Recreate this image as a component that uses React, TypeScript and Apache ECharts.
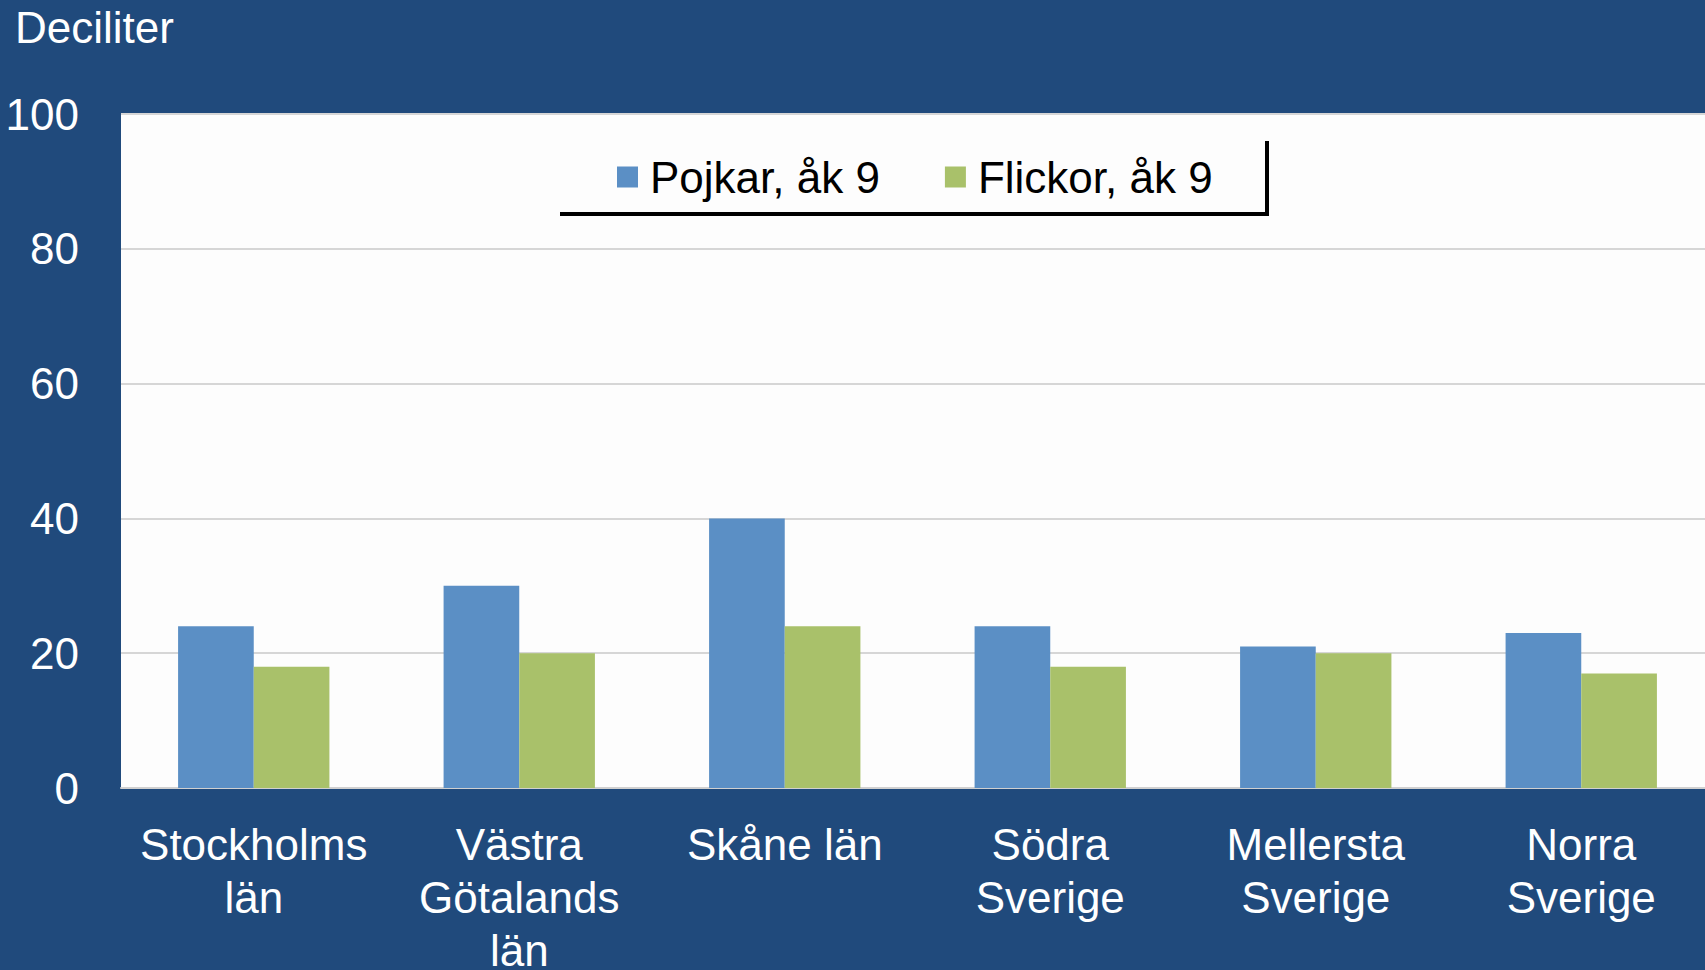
import React, { useEffect, useRef } from "react";
import * as echarts from "echarts";

const categories = ["Stockholms\nlän", "Västra\nGötalands\nlän", "Skåne län", "Södra\nSverige", "Mellersta\nSverige", "Norra\nSverige"];
const pojkar = [24, 30, 40, 24, 21, 23];
const flickor = [18, 20, 24, 18, 20, 17];
const seriesNames = ["Pojkar, åk 9", "Flickor, åk 9"];
const yTitle = "Deciliter";

const FONT = "'Liberation Sans', Arial, sans-serif";

export default function App() {
  const ref = useRef<HTMLDivElement>(null);
  useEffect(() => {
    if (!ref.current) return;
    const chart = echarts.init(ref.current, undefined, { renderer: "svg" });
    chart.setOption({
      animation: false,
      backgroundColor: "#204A7C",
      textStyle: { fontFamily: FONT },
      grid: {
        left: 121,
        top: 114,
        width: 1593,
        height: 674,
        show: true,
        backgroundColor: "#FDFDFD",
        borderWidth: 0,
        containLabel: false,
        outerBoundsMode: "none",
      },
      legend: {
        left: 612,
        top: 150,
        itemWidth: 21,
        itemHeight: 21,
        itemGap: 65,
        icon: "rect",
        data: seriesNames,
        textStyle: { fontSize: 44, color: "#000", fontFamily: FONT, padding: [0, 0, 0, 7] },
      },
      graphic: [
        {
          type: "text",
          left: 15,
          top: 5,
          style: { text: yTitle, fill: "#fff", fontSize: 44, fontFamily: FONT },
        },
        {
          type: "line",
          shape: { x1: 560, y1: 214, x2: 1269, y2: 214 },
          style: { stroke: "#000", lineWidth: 4 },
        },
        {
          type: "line",
          shape: { x1: 1267, y1: 141, x2: 1267, y2: 216 },
          style: { stroke: "#000", lineWidth: 4 },
        },
      ],
      xAxis: {
        type: "category",
        data: categories,
        axisLine: { lineStyle: { color: "#D0D0D0", width: 2 } },
        axisTick: { length: 13, lineStyle: { color: "#D0D0D0", width: 2 } },
        axisLabel: {
          color: "#fff",
          fontSize: 44,
          lineHeight: 53,
          margin: 30,
          interval: 0,
          fontFamily: FONT,
        },
      },
      yAxis: {
        type: "value",
        min: 0,
        max: 100,
        interval: 20,
        axisLine: { show: false },
        axisTick: { show: false },
        axisLabel: { color: "#fff", fontSize: 44, margin: 42, fontFamily: FONT },
        splitLine: { lineStyle: { color: "#D6D6D6", width: 2 } },
      },
      series: [
        {
          name: seriesNames[0],
          type: "bar",
          data: pojkar,
          itemStyle: { color: "#5B8FC5" },
          barGap: "0%",
          barCategoryGap: "43%",
        },
        {
          name: seriesNames[1],
          type: "bar",
          data: flickor,
          itemStyle: { color: "#A9C16A" },
          barGap: "0%",
          barCategoryGap: "43%",
        },
      ],
    });
    return () => chart.dispose();
  }, []);
  return (
    <div
      ref={ref}
      style={{ position: "fixed", left: 0, top: 0, width: 1705, height: 970 }}
    />
  );
}
